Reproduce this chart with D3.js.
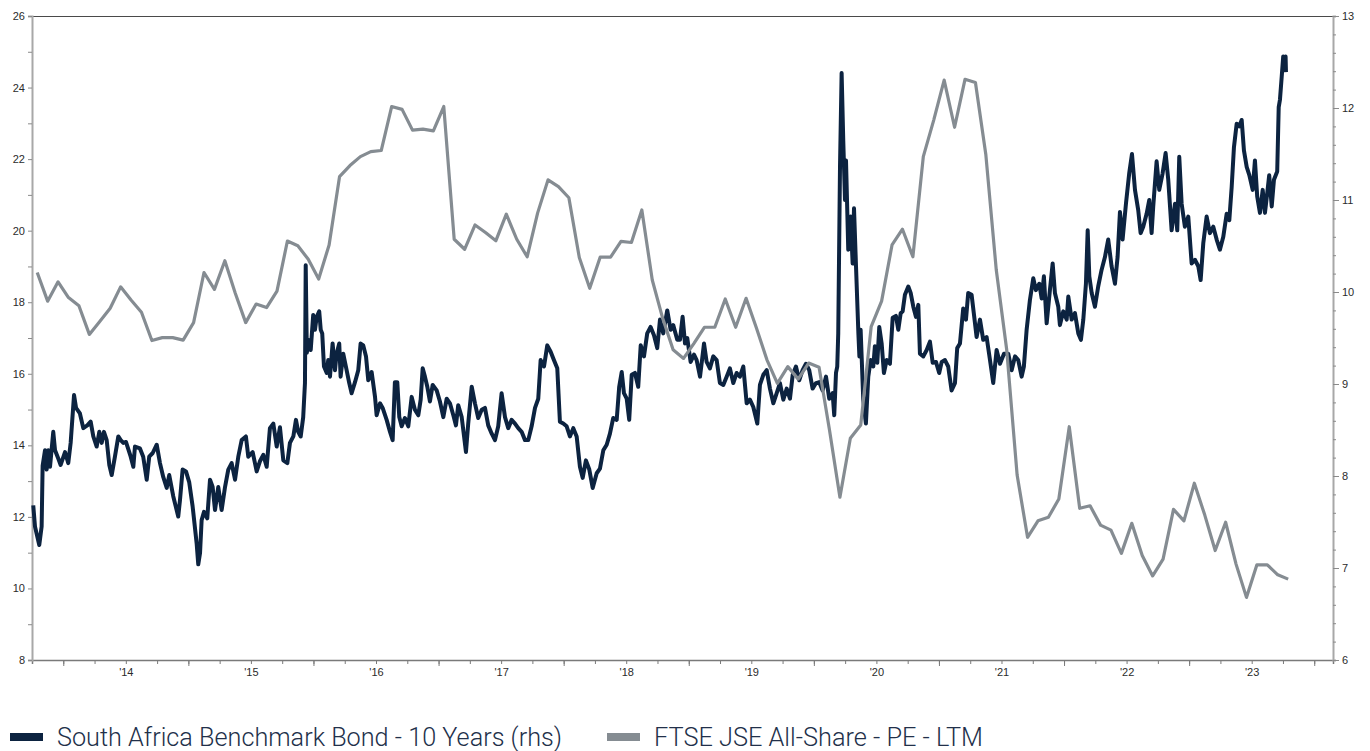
<!DOCTYPE html>
<html>
<head>
<meta charset="utf-8">
<script src="https://cdn.jsdelivr.net/npm/d3@7"></script>
<style>
  body { margin: 0; background: #fff; }
  svg { display: block; }
  .axis text { font-family: "Liberation Sans", Arial, sans-serif; font-size: 11px; fill: #2b2b2b; }
  .xaxis text { font-family: "Liberation Sans Narrow", "Liberation Sans", Arial, sans-serif; }
  .legend text { font-family: Roboto, "Noto Sans", sans-serif; font-weight: 300; font-size: 25px; fill: #22304a; }
</style>
</head>
<body>
<div id="chart"></div>
<script>
// legend labels
const seriesNames = ["South Africa Benchmark Bond - 10 Years (rhs)", "FTSE JSE All-Share - PE - LTM"];

// FTSE JSE All-Share PE, monthly from Oct 2013 (left axis)
const peStart = [2013, 10];
const peValues = [
  18.83, 18.03, 18.57, 18.13, 17.90, 17.10, 17.46, 17.83, 18.43, 18.06, 17.72, 16.93,
  17.01, 17.01, 16.94, 17.43, 18.83, 18.36, 19.16, 18.25, 17.43, 17.95, 17.85, 18.31,
  19.71, 19.58, 19.20, 18.65, 19.60, 21.51, 21.82, 22.07, 22.21, 22.24, 23.47, 23.39,
  22.81, 22.84, 22.79, 23.47, 19.76, 19.48, 20.16, 19.95, 19.72, 20.46, 19.76, 19.27,
  20.49, 21.42, 21.23, 20.92, 19.25, 18.39, 19.26, 19.26, 19.70, 19.67, 20.58, 18.62,
  17.55, 16.67, 16.43, 16.85, 17.30, 17.30, 18.09, 17.30, 18.11, 17.27, 16.39, 15.73,
  16.20, 15.85, 16.30, 16.18, 14.43, 12.55, 14.20, 14.57, 17.32, 18.03, 19.60, 20.04,
  19.27, 22.07, 23.09, 24.21, 22.89, 24.23, 24.14, 22.12, 18.90, 16.67, 13.17, 11.43,
  11.89, 11.99, 12.50, 14.52, 12.24, 12.31, 11.77, 11.63, 10.98, 11.82, 10.92, 10.35,
  10.82, 12.21, 11.89, 12.94, 12.05, 11.06, 11.85, 10.68, 9.75, 10.66, 10.66, 10.38,
  10.26
];

// SA 10y benchmark bond yield (right axis), dates as decimal years
const bondDates = [
  2013.760, 2013.774, 2013.808, 2013.827, 2013.835, 2013.854, 2013.867, 2013.880, 2013.894, 2013.920,
  2013.934, 2013.960, 2013.979, 2014.014, 2014.040, 2014.059, 2014.086, 2014.102, 2014.133, 2014.160,
  2014.192, 2014.219, 2014.240, 2014.267, 2014.288, 2014.307, 2014.325, 2014.347, 2014.368, 2014.387,
  2014.413, 2014.440, 2014.459, 2014.480, 2014.501, 2014.539, 2014.560, 2014.573, 2014.613, 2014.639,
  2014.667, 2014.687, 2014.715, 2014.747, 2014.773, 2014.799, 2014.827, 2014.847, 2014.879, 2014.919,
  2014.933, 2014.954, 2014.981, 2015.007, 2015.034, 2015.066, 2015.079, 2015.093, 2015.106, 2015.125,
  2015.151, 2015.173, 2015.194, 2015.213, 2015.239, 2015.266, 2015.293, 2015.319, 2015.346, 2015.373,
  2015.399, 2015.426, 2015.460, 2015.479, 2015.514, 2015.546, 2015.572, 2015.599, 2015.626, 2015.652,
  2015.679, 2015.706, 2015.732, 2015.759, 2015.791, 2015.812, 2015.839, 2015.860, 2015.878, 2015.898,
  2015.918, 2015.932, 2015.938, 2015.947, 2015.958, 2015.978, 2015.998, 2016.012, 2016.026, 2016.046,
  2016.058, 2016.070, 2016.084, 2016.106, 2016.118, 2016.132, 2016.153, 2016.172, 2016.185, 2016.206,
  2016.217, 2016.238, 2016.265, 2016.286, 2016.305, 2016.332, 2016.358, 2016.377, 2016.398, 2016.420,
  2016.438, 2016.465, 2016.492, 2016.505, 2016.532, 2016.553, 2016.585, 2016.612, 2016.633, 2016.651,
  2016.670, 2016.686, 2016.705, 2016.731, 2016.758, 2016.785, 2016.811, 2016.838, 2016.857, 2016.873,
  2016.891, 2016.910, 2016.931, 2016.953, 2016.985, 2017.011, 2017.038, 2017.065, 2017.091, 2017.118,
  2017.139, 2017.157, 2017.185, 2017.219, 2017.237, 2017.265, 2017.291, 2017.317, 2017.345, 2017.371,
  2017.397, 2017.425, 2017.451, 2017.477, 2017.504, 2017.531, 2017.557, 2017.584, 2017.611, 2017.637,
  2017.664, 2017.691, 2017.717, 2017.744, 2017.771, 2017.797, 2017.816, 2017.843, 2017.869, 2017.896,
  2017.922, 2017.949, 2017.970, 2017.997, 2018.024, 2018.050, 2018.077, 2018.104, 2018.130, 2018.152,
  2018.178, 2018.205, 2018.232, 2018.264, 2018.290, 2018.317, 2018.344, 2018.370, 2018.396, 2018.424,
  2018.444, 2018.464, 2018.482, 2018.504, 2018.524, 2018.544, 2018.570, 2018.596, 2018.616, 2018.642,
  2018.668, 2018.695, 2018.722, 2018.748, 2018.770, 2018.796, 2018.828, 2018.855, 2018.876, 2018.908,
  2018.930, 2018.951, 2018.970, 2018.988, 2019.015, 2019.042, 2019.063, 2019.090, 2019.122, 2019.143,
  2019.169, 2019.196, 2019.223, 2019.249, 2019.276, 2019.303, 2019.329, 2019.356, 2019.383, 2019.409,
  2019.436, 2019.463, 2019.489, 2019.516, 2019.548, 2019.569, 2019.596, 2019.623, 2019.649, 2019.676,
  2019.703, 2019.729, 2019.756, 2019.783, 2019.809, 2019.831, 2019.857, 2019.883, 2019.910, 2019.937,
  2019.963, 2019.990, 2020.017, 2020.043, 2020.070, 2020.097, 2020.123, 2020.150, 2020.163, 2020.177,
  2020.187, 2020.195, 2020.209, 2020.222, 2020.235, 2020.249, 2020.257, 2020.275, 2020.294, 2020.310,
  2020.321, 2020.337, 2020.356, 2020.364, 2020.374, 2020.395, 2020.416, 2020.435, 2020.454, 2020.475,
  2020.488, 2020.507, 2020.523, 2020.542, 2020.560, 2020.582, 2020.608, 2020.630, 2020.656, 2020.675,
  2020.694, 2020.710, 2020.728, 2020.755, 2020.774, 2020.795, 2020.816, 2020.835, 2020.848, 2020.875,
  2020.902, 2020.928, 2020.950, 2020.976, 2021.002, 2021.022, 2021.048, 2021.074, 2021.101, 2021.128,
  2021.146, 2021.168, 2021.194, 2021.216, 2021.234, 2021.261, 2021.282, 2021.301, 2021.328, 2021.354,
  2021.381, 2021.408, 2021.434, 2021.461, 2021.488, 2021.520, 2021.554, 2021.581, 2021.608, 2021.634,
  2021.661, 2021.679, 2021.701, 2021.727, 2021.754, 2021.775, 2021.802, 2021.821, 2021.839, 2021.861,
  2021.887, 2021.909, 2021.927, 2021.954, 2021.967, 2021.994, 2022.021, 2022.034, 2022.061, 2022.087,
  2022.114, 2022.135, 2022.154, 2022.175, 2022.189, 2022.202, 2022.221, 2022.247, 2022.273, 2022.300,
  2022.327, 2022.353, 2022.380, 2022.407, 2022.428, 2022.447, 2022.468, 2022.495, 2022.521, 2022.543,
  2022.567, 2022.593, 2022.612, 2022.633, 2022.660, 2022.681, 2022.700, 2022.713, 2022.740, 2022.761,
  2022.788, 2022.812, 2022.833, 2022.860, 2022.887, 2022.905, 2022.921, 2022.940, 2022.966, 2022.993,
  2023.020, 2023.047, 2023.073, 2023.092, 2023.113, 2023.140, 2023.166, 2023.193, 2023.220, 2023.246,
  2023.273, 2023.300, 2023.321, 2023.340, 2023.358, 2023.380, 2023.401, 2023.420, 2023.438, 2023.460,
  2023.481, 2023.508, 2023.526, 2023.544, 2023.566, 2023.588, 2023.606, 2023.624, 2023.640, 2023.660,
  2023.678, 2023.704, 2023.716, 2023.726, 2023.740, 2023.752, 2023.763, 2023.771, 2023.774
];
const bondValues = [
  7.68, 7.45, 7.25, 7.45, 8.11, 8.28, 8.07, 8.28, 8.10, 8.48,
  8.28, 8.19, 8.12, 8.26, 8.14, 8.36, 8.88, 8.74, 8.68, 8.52,
  8.55, 8.59, 8.43, 8.32, 8.48, 8.36, 8.48, 8.39, 8.12, 8.01,
  8.21, 8.43, 8.39, 8.36, 8.37, 8.21, 8.10, 8.32, 8.30, 8.21,
  7.96, 8.21, 8.25, 8.34, 8.14, 7.99, 7.87, 8.01, 7.78, 7.56,
  7.74, 8.07, 8.05, 7.93, 7.67, 7.27, 7.04, 7.16, 7.52, 7.61,
  7.54, 7.96, 7.88, 7.63, 7.88, 7.63, 7.88, 8.07, 8.14, 7.96,
  8.21, 8.39, 8.43, 8.21, 8.26, 8.05, 8.16, 8.23, 8.10, 8.52,
  8.57, 8.32, 8.53, 8.17, 8.14, 8.36, 8.43, 8.61, 8.48, 8.43,
  8.64, 9.01, 10.29, 9.34, 9.48, 9.37, 9.75, 9.59, 9.73, 9.79,
  9.59, 9.55, 9.19, 9.12, 9.26, 9.08, 9.44, 9.15, 9.33, 9.44,
  9.08, 9.33, 9.15, 9.01, 8.90, 9.02, 9.15, 9.44, 9.42, 9.30,
  9.04, 9.13, 8.86, 8.66, 8.79, 8.74, 8.61, 8.48, 8.39, 9.02,
  9.02, 8.64, 8.54, 8.63, 8.54, 8.86, 8.72, 8.66, 8.83, 9.17,
  9.08, 8.97, 8.81, 8.99, 8.93, 8.81, 8.64, 8.84, 8.79, 8.66,
  8.55, 8.77, 8.64, 8.26, 8.57, 8.97, 8.79, 8.63, 8.72, 8.74,
  8.55, 8.46, 8.39, 8.54, 8.90, 8.64, 8.52, 8.61, 8.57, 8.52,
  8.48, 8.39, 8.39, 8.54, 8.74, 8.84, 9.26, 9.19, 9.42, 9.35,
  9.26, 9.17, 8.59, 8.57, 8.54, 8.43, 8.52, 8.43, 8.10, 7.98,
  8.17, 8.07, 7.87, 8.03, 8.08, 8.28, 8.34, 8.46, 8.63, 8.61,
  8.97, 9.13, 8.90, 8.84, 8.61, 9.10, 9.12, 8.97, 9.42, 9.30,
  9.55, 9.62, 9.53, 9.39, 9.70, 9.55, 9.80, 9.59, 9.64, 9.48,
  9.48, 9.73, 9.44, 9.50, 9.24, 9.32, 9.26, 9.08, 9.44, 9.24,
  9.17, 9.30, 9.26, 9.01, 8.99, 9.08, 9.17, 9.01, 9.12, 9.08,
  9.19, 8.79, 8.83, 8.75, 8.57, 8.99, 9.10, 9.15, 8.95, 8.79,
  8.90, 9.01, 8.83, 8.95, 8.84, 9.10, 9.19, 9.04, 9.15, 9.22,
  9.15, 8.95, 9.01, 9.02, 8.93, 9.08, 8.84, 8.90, 8.66, 9.12,
  9.19, 9.55, 11.36, 12.38, 11.65, 11.00, 11.43, 10.46, 10.82, 10.31,
  10.91, 10.28, 9.55, 9.30, 9.59, 8.83, 8.57, 9.08, 9.26, 9.19,
  9.41, 9.23, 9.62, 9.44, 9.12, 9.26, 9.22, 9.72, 9.74, 9.59,
  9.77, 9.79, 9.97, 10.06, 9.99, 9.84, 9.73, 9.86, 9.33, 9.30,
  9.37, 9.46, 9.23, 9.24, 9.12, 9.24, 9.26, 9.19, 8.93, 9.01,
  9.39, 9.44, 9.82, 9.70, 9.99, 9.97, 9.73, 9.51, 9.70, 9.48,
  9.51, 9.26, 9.01, 9.37, 9.22, 9.33, 9.33, 9.15, 9.30, 9.26,
  9.08, 9.19, 9.59, 9.91, 10.15, 10.02, 10.09, 9.93, 10.17, 9.66,
  10.02, 10.31, 9.99, 9.84, 9.64, 9.79, 9.70, 9.95, 9.70, 9.77,
  9.55, 9.48, 9.70, 10.09, 10.67, 10.17, 9.99, 9.84, 10.06, 10.24,
  10.38, 10.57, 10.28, 10.09, 10.38, 10.87, 10.57, 10.96, 11.29, 11.50,
  11.11, 10.89, 10.64, 10.71, 10.85, 11.00, 10.64, 10.93, 11.42, 11.11,
  11.29, 11.51, 11.22, 10.67, 10.96, 10.67, 11.47, 10.96, 10.71, 10.82,
  10.31, 10.35, 10.28, 10.13, 10.53, 10.82, 10.64, 10.71, 10.57, 10.46,
  10.60, 10.85, 10.78, 11.14, 11.57, 11.83, 11.80, 11.87, 11.54, 11.36,
  11.27, 11.11, 11.43, 11.04, 10.86, 11.11, 10.86, 11.07, 11.27, 10.93,
  11.22, 11.31, 12.01, 12.09, 12.34, 12.56, 12.41, 12.56, 12.39
];

const leftTicks = d3.range(8, 27, 1);
const rightTicks = d3.range(6, 14, 1);
const yearLabels = ["'14", "'15", "'16", "'17", "'18", "'19", "'20", "'21", "'22", "'23"];

const W = 1370, H = 751;
const plot = {left: 32, right: 1333, top: 16, bottom: 660};

const svg = d3.select("#chart").append("svg")
  .attr("width", W)
  .attr("height", H);

const x = d3.scaleLinear()
  .domain([2013.75, 2024.15])
  .range([plot.left, plot.right]);
const yL = d3.scaleLinear().domain([8, 26]).range([plot.bottom, plot.top]);
const yR = d3.scaleLinear().domain([6, 13]).range([plot.bottom, plot.top]);

// top frame line
svg.append("line")
  .attr("x1", plot.left).attr("x2", plot.right)
  .attr("y1", plot.top + 0.5).attr("y2", plot.top + 0.5)
  .attr("stroke", "#4a4a4a").attr("stroke-width", 1);

// bottom axis: quarterly ticks, longer year ticks, labels mid-year
const quarters = d3.range(2014, 2024.2, 0.25);
const xq = svg.append("g").attr("class", "axis xaxis")
  .attr("transform", `translate(0,${plot.bottom})`)
  .call(d3.axisBottom(x).tickValues(quarters).tickSize(4).tickFormat(""));
xq.select(".domain").attr("stroke", "#7a7a7a").attr("stroke-width", 1.5);
xq.selectAll(".tick line").attr("stroke", "#7a7a7a");
svg.append("g").attr("class", "axis xaxis")
  .attr("transform", `translate(0,${plot.bottom})`)
  .call(d3.axisBottom(x).tickValues(d3.range(2014, 2025)).tickSize(6).tickFormat(""))
  .call(g => g.select(".domain").remove())
  .selectAll(".tick line").attr("stroke", "#7a7a7a");
svg.append("g").attr("class", "axis xaxis")
  .attr("transform", `translate(0,${plot.bottom})`)
  .call(d3.axisBottom(x).tickValues(yearLabels.map((d, i) => 2014.5 + i)).tickSize(0).tickPadding(8)
    .tickFormat((d, i) => yearLabels[i]))
  .call(g => g.select(".domain").remove());

// left axis
const gl = svg.append("g").attr("class", "axis")
  .attr("transform", `translate(${plot.left},0)`)
  .call(d3.axisLeft(yL).tickValues(leftTicks).tickSize(4).tickPadding(3)
    .tickFormat(d => d % 2 === 0 ? d : ""));
gl.select(".domain").attr("stroke", "#a8a8a8").attr("stroke-width", 2);
gl.selectAll(".tick line").attr("stroke", "#8a8a8a");

// right axis
const gr = svg.append("g").attr("class", "axis")
  .attr("transform", `translate(${plot.right},0)`)
  .call(d3.axisRight(yR).tickValues(d3.range(6, 13.01, 0.2)).tickSize(3).tickFormat(""));
gr.select(".domain").attr("stroke", "#a8a8a8").attr("stroke-width", 2);
gr.selectAll(".tick line").attr("stroke", "#8a8a8a");
svg.append("g").attr("class", "axis")
  .attr("transform", `translate(${plot.right},0)`)
  .call(d3.axisRight(yR).tickValues(rightTicks).tickSize(6).tickPadding(3).tickFormat(d3.format("d")))
  .call(g => g.select(".domain").remove())
  .selectAll(".tick line").attr("stroke", "#8a8a8a");

// series
const bond = bondDates.map((t, i) => ({t, v: bondValues[i]}));
const pe = peValues.map((v, i) => ({t: peStart[0] + (peStart[1] - 1 + i + 0.5) / 12, v}));

svg.append("path")
  .datum(bond)
  .attr("fill", "none")
  .attr("stroke", "#0c2340")
  .attr("stroke-width", 4)
  .attr("stroke-linejoin", "round")
  .attr("d", d3.line().x(d => x(d.t)).y(d => yR(d.v)));

svg.append("path")
  .datum(pe)
  .attr("fill", "none")
  .attr("stroke", "#858c92")
  .attr("stroke-width", 3.2)
  .attr("stroke-linejoin", "round")
  .attr("d", d3.line().x(d => x(d.t)).y(d => yL(d.v)));

// legend
const legend = svg.append("g").attr("class", "legend");
const legendItems = [
  {name: seriesNames[0], color: "#0c2340", x: 10, w: 505},
  {name: seriesNames[1], color: "#858c92", x: 607, w: 329}
];
legendItems.forEach(d => {
  legend.append("rect")
    .attr("x", d.x).attr("y", 733)
    .attr("width", 33).attr("height", 8)
    .attr("fill", d.color);
  legend.append("text")
    .attr("x", d.x + 47).attr("y", 746)
    .attr("textLength", d.w)
    .attr("lengthAdjust", "spacingAndGlyphs")
    .text(d.name);
});
</script>
</body>
</html>
